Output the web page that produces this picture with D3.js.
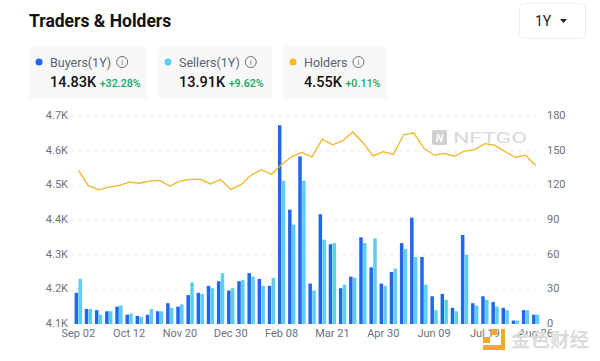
<!DOCTYPE html>
<html>
<head>
<meta charset="utf-8">
<script src="https://cdn.jsdelivr.net/npm/d3@7"></script>
<style>
  html, body { margin: 0; padding: 0; background: #fff; }
  svg { display: block; font-family: Roboto, sans-serif; }
</style>
</head>
<body>
<div id="chart"></div>
<script>
// values, one entry per 8 day bucket
var buyers = [27,13,12,11,15,8,7,8,11,18,15,25,27,33,37,29,37,44,39,33,172,99,145,35,95,69,31,41,75,49,35,45,70,92,58,24,26,14,77,18,24,19,14,3,12,8]
var sellers = [39,13,8,11,16,9,6,13,11,14,17,36,26,31,44,31,38,41,33,40,124,86,124,29,73,70,34,40,70,74,33,48,65,58,34,12,21,11,60,16,21,15,12,3,12,8]
var holders = [4544,4499,4487,4495,4499,4509,4506,4512,4514,4498,4512,4517,4518,4504,4517,4488,4502,4529,4545,4532,4560,4583,4595,4582,4633,4617,4628,4654,4623,4585,4597,4589,4646,4651,4607,4587,4592,4584,4599,4603,4620,4615,4597,4581,4587,4557]
var xLabels = ["Sep 02","Oct 12","Nov 20","Dec 30","Feb 08","Mar 21","Apr 30","Jun 09","Jul 19","Aug 26"]
var leftTicks = [4100,4200,4300,4400,4500,4600,4700]
var rightTicks = [0,30,60,90,120,150,180]
var cards = [
  {name: "Buyers(1Y)", value: "14.83K", change: "+32.28%", color: "#1f66f0", x: 29, w: 118},
  {name: "Sellers(1Y)", value: "13.91K", change: "+9.62%", color: "#5ccfee", x: 158, w: 114},
  {name: "Holders", value: "4.55K", change: "+0.11%", color: "#f7b924", x: 283, w: 104}
]

var width = 600
var height = 361
var margin = {top: 116, left: 73, right: 59, bottom: 37}
var bottom = height - margin.bottom

var svg = d3.select("#chart")
  .append("svg")
  .attr("width", width)
  .attr("height", height)

// scales
var x = d3.scaleBand()
  .domain(d3.range(buyers.length))
  .range([margin.left, width - margin.right])
  .paddingInner(0.28)
  .paddingOuter(0.16)

var xSeries = d3.scaleBand().domain([0, 1]).range([0, x.bandwidth()]).paddingInner(0.08)
var yLeft = d3.scaleLinear().domain([4100, 4700]).range([bottom, margin.top])
var yRight = d3.scaleLinear().domain([0, 180]).range([bottom, margin.top])

// grid
svg.append("g")
  .selectAll("line")
  .data(leftTicks.slice(1))
  .enter()
  .append("line")
    .attr("x1", margin.left - 3)
    .attr("x2", width - margin.right)
    .attr("y1", d => yLeft(d) + 0.5)
    .attr("y2", d => yLeft(d) + 0.5)
    .attr("stroke", "#eef0f2")
    .attr("stroke-dasharray", "4 4")

// axes, only the labels are visible
var axisLeft = svg.append("g")
  .attr("transform", "translate(" + margin.left + ",0)")
  .call(d3.axisLeft(yLeft).tickValues(leftTicks).tickSize(0).tickPadding(5).tickFormat(d => d3.format(".1f")(d / 1000) + "K"))

var axisRight = svg.append("g")
  .attr("transform", "translate(" + (width - margin.right + 1) + ",0)")
  .call(d3.axisRight(yRight).tickValues(rightTicks).tickSize(0).tickPadding(5))

var axisBottom = svg.append("g")
  .attr("transform", "translate(0," + bottom + ")")
  .call(d3.axisBottom(x).tickValues(d3.range(0, buyers.length, 5)).tickSize(0).tickPadding(5).tickFormat((d, i) => xLabels[i]))

svg.selectAll(".domain").remove()
svg.selectAll(".tick text").attr("fill", "#6b7280").style("font-size", "11px").style("font-family", "Roboto, sans-serif")
axisLeft.selectAll(".tick text").attr("dy", "0.22em")
axisRight.selectAll(".tick text").attr("dy", "0.22em")

// bars
svg.append("g")
  .selectAll("rect")
  .data(buyers)
  .enter()
  .append("rect")
    .attr("x", (d, i) => x(i))
    .attr("y", d => yRight(d))
    .attr("width", xSeries.bandwidth())
    .attr("height", d => bottom - yRight(d))
    .style("fill", cards[0].color)

svg.append("g")
  .selectAll("rect")
  .data(sellers)
  .enter()
  .append("rect")
    .attr("x", (d, i) => x(i) + xSeries(1))
    .attr("y", d => yRight(d))
    .attr("width", xSeries.bandwidth())
    .attr("height", d => bottom - yRight(d))
    .style("fill", cards[1].color)

// holders line
var line = d3.line()
  .x((d, i) => x(i) + x.bandwidth() / 2)
  .y(d => yLeft(d))

svg.append("path")
  .datum(holders)
  .attr("d", line)
  .attr("fill", "none")
  .attr("stroke", "#f2b42a")
  .attr("stroke-width", 1.3)

// header
svg.append("text")
  .attr("x", 29)
  .attr("y", 27)
  .attr("fill", "#111")
  .style("font-size", "17.5px")
  .style("font-weight", 700)
  .text("Traders & Holders")

var card = svg.append("g")
  .selectAll("g")
  .data(cards)
  .enter()
  .append("g")
    .attr("transform", d => "translate(" + d.x + ",46)")

card.append("rect")
  .attr("width", d => d.w)
  .attr("height", 53)
  .attr("rx", 4)
  .attr("fill", "#f8f8f9")

card.append("circle")
  .attr("cx", 10)
  .attr("cy", 16)
  .attr("r", 3.5)
  .attr("fill", d => d.color)

var cardName = card.append("text")
  .attr("x", 21)
  .attr("y", 20.5)
  .attr("fill", "#5b6270")
  .style("font-size", "12.5px")
  .text(d => d.name)

// little info icon after each name
card.each(function (d, i) {
  var g = d3.select(this)
  var cx = 21 + cardName.nodes()[i].getComputedTextLength() + 11
  g.append("circle").attr("cx", cx).attr("cy", 16).attr("r", 5.5).attr("fill", "none").attr("stroke", "#6b7280")
  g.append("text").attr("x", cx).attr("y", 19).attr("text-anchor", "middle").attr("fill", "#6b7280").style("font-size", "8px").text("i")
})

var cardValue = card.append("text")
  .attr("x", 21)
  .attr("y", 41)
  .attr("fill", "#111")
  .style("font-size", "14.5px")
  .style("font-weight", 500)
  .text(d => d.value)

card.append("text")
  .attr("x", (d, i) => 21 + cardValue.nodes()[i].getComputedTextLength() + 3.5)
  .attr("y", 41)
  .attr("fill", "#16a765")
  .style("font-size", "10.7px")
  .style("font-weight", 500)
  .text(d => d.change)

// range dropdown
svg.append("rect")
  .attr("x", 519.5)
  .attr("y", 3.5)
  .attr("width", 66)
  .attr("height", 35)
  .attr("rx", 5)
  .attr("fill", "#fff")
  .attr("stroke", "#eeeeee")

svg.append("text")
  .attr("x", 535)
  .attr("y", 26)
  .attr("fill", "#222")
  .style("font-size", "14px")
  .text("1Y")

svg.append("path")
  .attr("d", "M560 19h7l-3.5 4z")
  .attr("fill", "#222")

// NFTGO watermark
var mark = svg.append("g")
mark.append("rect").attr("x", 432).attr("y", 130).attr("width", 15).attr("height", 15).attr("rx", 2).attr("fill", "#cfcfcf")
mark.append("text").attr("x", 439.5).attr("y", 142).attr("text-anchor", "middle").attr("fill", "#fff")
  .style("font-size", "11px").style("font-weight", 700).style("font-style", "italic").text("N")
mark.append("text").attr("x", 453).attr("y", 143).attr("fill", "#d9d9d9")
  .attr("textLength", 74)
  .attr("lengthAdjust", "spacingAndGlyphs")
  .style("font-size", "14px")
  .text("NFTGO")

// site watermark, bottom right
svg.append("path").attr("d", "M501 329h4v21h-22v-5h18z").attr("fill", "#f0a92c")
svg.append("rect").attr("x", 483).attr("y", 337).attr("width", 7).attr("height", 6).attr("fill", "#f0a92c")
svg.append("rect").attr("x", 492).attr("y", 329).attr("width", 5).attr("height", 6).attr("fill", "#f0a92c")
svg.append("text")
  .attr("x", 511)
  .attr("y", 347)
  .attr("fill", "#dcdcdc")
  .style("font-family", "'Noto Sans CJK SC'")
  .style("font-size", "19.5px")
  .style("font-weight", 700)
  .text("金色财经")
</script>
</body>
</html>
